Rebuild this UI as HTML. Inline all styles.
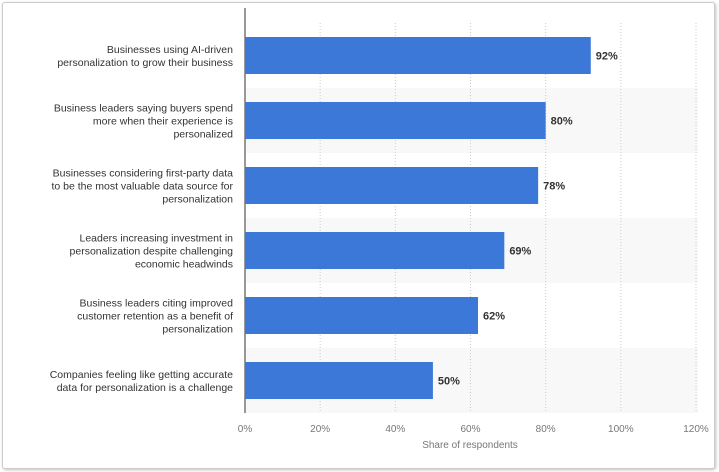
<!DOCTYPE html>
<html><head><meta charset="utf-8"><style>
body{margin:0;background:#fff;width:719px;height:472px;overflow:hidden;font-family:"Liberation Sans",sans-serif}
.card{position:absolute;left:2px;top:2px;width:711px;height:465px;border:1px solid #ccc;border-radius:3px;box-shadow:1px 1px 3px rgba(0,0,0,.25);background:#fff}
</style></head><body>
<div class="card"></div>
<svg id="c" width="719" height="472" style="position:absolute;left:0;top:0"></svg>
<script>
const categories=[
["Businesses using AI-driven","personalization to grow their business"],
["Business leaders saying buyers spend","more when their experience is","personalized"],
["Businesses considering first-party data","to be the most valuable data source for","personalization"],
["Leaders increasing investment in","personalization despite challenging","economic headwinds"],
["Business leaders citing improved","customer retention as a benefit of","personalization"],
["Companies feeling like getting accurate","data for personalization is a challenge"]];
const values=[92,80,78,69,62,50];
const ticks=[0,20,40,60,80,100,120];
const tickLabels=["0%","20%","40%","60%","80%","100%","120%"];
const NS="http://www.w3.org/2000/svg";
const svg=document.getElementById('c');
const x0=245,x1=696,plotTop=23,plotBottom=413,vmax=120;
const xs=v=>x0+(x1-x0)*v/vmax;
const band=(plotBottom-plotTop)/categories.length;
const ys=i=>plotTop+band*i;
function mk(t,a){const e=document.createElementNS(NS,t);for(const k in a)e.setAttribute(k,a[k]);svg.appendChild(e);return e;}
categories.forEach((c,i)=>{if(i%2==1){const r=mk('rect',{x:x0,y:ys(i),width:x1-x0+2,height:band,fill:'#f8f8f8'});

}});
ticks.forEach((t,i)=>{if(i>0){const l=mk('line',{x1:xs(t),x2:xs(t),y1:plotTop,y2:plotBottom,stroke:'#ccc','stroke-dasharray':'1,2'});

}
const tx=mk('text',{x:xs(t),y:432,'text-anchor':'middle','font-size':'10',fill:'#777'});tx.textContent=tickLabels[i];

});
const ax=mk('line',{x1:x0,x2:x0,y1:8,y2:plotBottom,stroke:'#333','stroke-width':1});


const tt=mk('text',{x:470,y:448,'text-anchor':'middle','font-size':'10',fill:'#777'});tt.textContent='Share of respondents';


values.forEach((v,i)=>{const cy=ys(i)+band/2;
const b=mk('rect',{x:x0,y:cy-18.5,width:xs(v)-x0,height:37,fill:'#3b78d8'});


const lb=mk('text',{x:xs(v)+5,y:cy+4,'font-size':'11','font-weight':'bold',fill:'#333'});lb.textContent=v+'%';


const lines=categories[i];const n=lines.length;
lines.forEach((s,j)=>{const t=mk('text',{x:233,y:cy+4+(j-(n-1)/2)*13,'text-anchor':'end','font-size':'10.5',fill:'#333'});t.textContent=s;

});});
</script>
</body></html>
